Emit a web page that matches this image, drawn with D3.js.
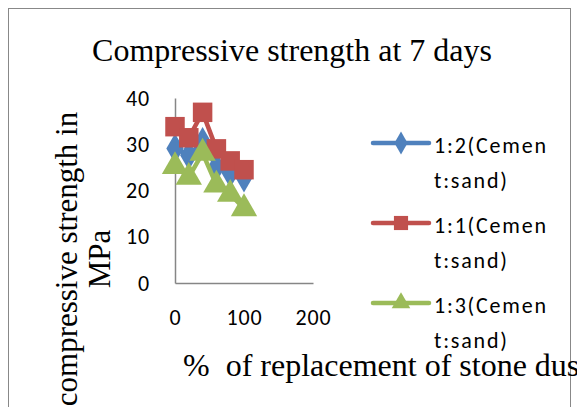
<!DOCTYPE html>
<html><head><meta charset="utf-8">
<script src="https://cdn.jsdelivr.net/npm/d3@7"></script>
<style>body{margin:0;background:#fff;overflow:hidden}svg{display:block}</style>
</head><body>
<svg id="chart" width="577" height="407"></svg>
<script>
const replacement = [0, 20, 40, 60, 80, 100];
const mix12 = [29.1, 27.6, 30.5, 25.1, 23.8, 22.8];
const mix11 = [33.8, 31.4, 36.9, 29.0, 26.4, 24.5];
const mix13 = [25.2, 22.9, 28.1, 21.2, 19.2, 16.1];
const yTicks = [0, 10, 20, 30, 40];
const xTicks = [0, 100, 200];
const seriesNames = ["1:2(Cemen|t:sand)", "1:1(Cemen|t:sand)", "1:3(Cemen|t:sand)"];
const colors = ["#4F81BD", "#C0504D", "#9BBB59"];
const symbols = [d3.symbolDiamond, d3.symbolSquare, d3.symbolTriangle];
const series = [mix12, mix11, mix13];

const svg = d3.select("#chart");
const sans = "Carlito, Calibri, Lato, 'Open Sans', sans-serif";
const serif = "'Liberation Serif', 'Times New Roman', serif";

// outer border
svg.append("rect").attr("x", 8.5).attr("y", 8.5).attr("width", 562).attr("height", 420)
  .attr("fill", "#fff").attr("stroke", "#888").attr("stroke-width", 1);

const x = d3.scaleLinear().domain([0, 200]).range([175, 313]);
const y = d3.scaleLinear().domain([0, 40]).range([283, 98]);

// title
svg.append("text").attr("x", 292).attr("y", 61).attr("text-anchor", "middle")
  .attr("font-family", serif).attr("font-size", 32).attr("fill", "#000")
  .text("Compressive strength at 7 days");

// axes
const yAxis = d3.axisLeft(y).tickValues(yTicks).tickSize(0).tickPadding(25);
const gy = svg.append("g").attr("transform", `translate(${x(0)},0)`).call(yAxis);
gy.select(".domain").attr("stroke", "#868686").attr("stroke-width", 1.5);
gy.selectAll("text").attr("font-family", sans).attr("font-size", 22).attr("letter-spacing", 0.8).attr("fill", "#000");

const xAxis = d3.axisBottom(x).tickValues(xTicks).tickSize(0).tickPadding(26);
const gx = svg.append("g").attr("transform", `translate(0,${y(0)})`).call(xAxis);
gx.select(".domain").attr("stroke", "#868686").attr("stroke-width", 1.5);
gx.selectAll("text").attr("font-family", sans).attr("font-size", 22).attr("letter-spacing", 0.8).attr("fill", "#000");

// axis titles
svg.append("text").attr("x", 183).attr("y", 376)
  .attr("font-family", serif).attr("font-size", 32).attr("fill", "#000")
  .attr("xml:space", "preserve")
  .text("%  of replacement of stone dust");

const yt = svg.append("text").attr("transform", "translate(0,259) rotate(-90)")
  .attr("text-anchor", "middle").attr("font-family", serif).attr("font-size", 31).attr("fill", "#000");
yt.append("tspan").attr("x", 0).attr("y", 77).text("compressive strength in");
yt.append("tspan").attr("x", 0).attr("y", 110).text("MPa");

// series (draw order: blue, red, green)
const line = d3.line().x((d, i) => x(replacement[i])).y(d => y(d));
const sizes = [260, 380, 300];
series.forEach((vals, si) => {
  svg.append("path").datum(vals).attr("d", line).attr("fill", "none")
    .attr("stroke", colors[si]).attr("stroke-width", 4.5).attr("stroke-linejoin", "round");
  svg.selectAll(null).data(vals).enter().append("path")
    .attr("d", d3.symbol().type(symbols[si]).size(sizes[si]))
    .attr("transform", (d, i) => `translate(${x(replacement[i])},${y(d)})`)
    .attr("fill", colors[si]);
});

// legend
const legY = [143, 223, 303];
series.forEach((vals, si) => {
  const g = svg.append("g");
  g.append("line").attr("x1", 373).attr("x2", 429).attr("y1", legY[si]).attr("y2", legY[si])
    .attr("stroke", colors[si]).attr("stroke-width", 4.5).attr("stroke-linecap", "round");
  g.append("path").attr("d", d3.symbol().type(symbols[si]).size(si === 1 ? 200 : 150))
    .attr("transform", `translate(401,${legY[si]})`).attr("fill", colors[si]);
  const parts = seriesNames[si].split("|");
  parts.forEach((p, k) => {
    g.append("text").attr("x", 434).attr("y", legY[si] + 10 + k * 35)
      .attr("font-family", sans).attr("font-size", 22).attr("letter-spacing", 1.8)
      .attr("fill", "#000").text(p);
  });
});
</script>
</body></html>
